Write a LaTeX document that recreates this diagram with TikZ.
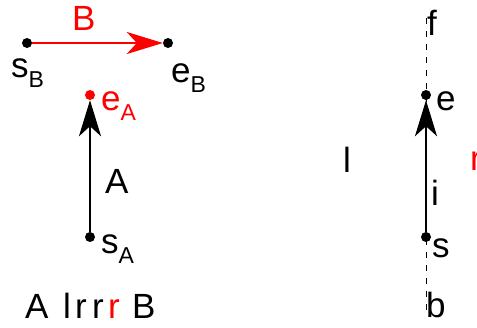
\documentclass[tikz,border=0pt]{standalone}
\usepackage{fontspec}
\setmainfont{Liberation Sans}
\usetikzlibrary{arrows.meta}
\newcommand\sbs[1]{\raisebox{-10pt}{\fontsize{23}{23}\selectfont #1}}
\begin{document}
\begin{tikzpicture}[x=1pt,y=-1pt,
  dot/.style={circle,fill,inner sep=0pt,minimum size=10pt},
  lbl/.style={anchor=base west,inner sep=0pt,font=\fontsize{35}{35}\selectfont},
  tip/.style={-{Stealth[length=36pt,width=22pt,inset=10pt]}},
  vec/.style={line width=2.4pt,tip},
  guide/.style={line width=1pt,dash pattern=on 6pt off 7pt}]
\useasboundingbox (0,0) rectangle (477,327);
\clip (0,0) rectangle (477,327);
% left: B vector
\node[dot] (sB) at (27,43) {};
\node[dot] (eB) at (168,43) {};
\draw[vec,red] (sB) -- (eB);
\node[lbl,red] (lB) at (72,30) {B};
\node[lbl] (lsB) at (11,77) {s\sbs{B}};
\node[lbl] (leB) at (171,82) {e\sbs{B}};
% left: A vector
\node[dot] (sA) at (90,237) {};
\node[dot,red] (eA) at (90,95) {};
\draw[vec] (sA) -- (eA);
\node[lbl,red] (leA) at (101,110) {e\sbs{A}};
\node[lbl] (lA) at (105,193) {A};
\node[lbl] (lsA) at (101,253) {s\sbs{A}};
% bottom text
\node[lbl] (t1) at (25,318) {A};
\node[lbl] (t2) at (63,318) {l};
\node[lbl] (t3) at (75,318) {r};
\node[lbl] (t4) at (92,318) {r};
\node[lbl,red] (t5) at (108,318) {r};
\node[lbl] (t6) at (132,318) {B};
% right
\coordinate (top) at (426,18);
\coordinate (bot) at (426,316);
\draw[guide] (top) -- (bot);
\node[dot] (s) at (426,237) {};
\node[dot] (e) at (426,95) {};
\draw[vec] (s) -- (e);
\node[lbl] (lf) at (427,35) {f};
\node[lbl] (le) at (436,110) {e};
\node[lbl] (li) at (431,205) {i};
\node[lbl] (ls) at (432,257) {s};
\node[lbl] (lb) at (426,317) {b};
\node[lbl] (ll) at (343,172) {l};
\node[lbl,red] (lr) at (470,170) {r};
\end{tikzpicture}
\end{document}
